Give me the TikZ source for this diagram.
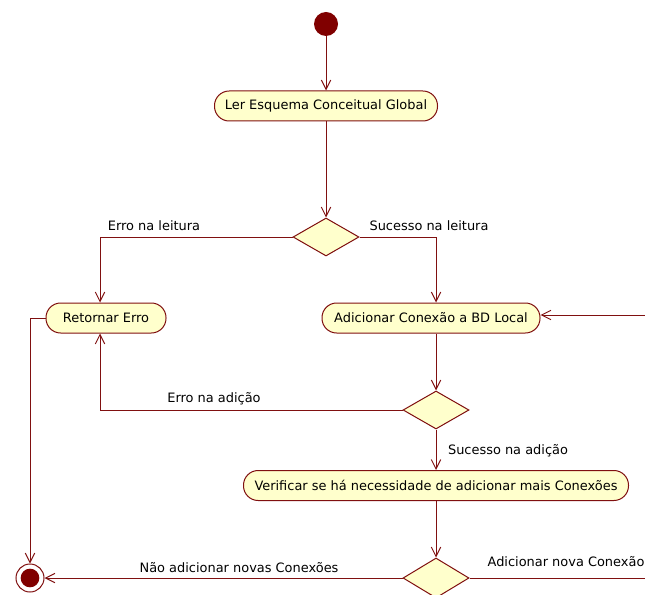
\documentclass[tikz,border=0pt]{standalone}
\usepackage{fontspec}
\setmainfont{DejaVu Sans}
\usetikzlibrary{arrows.meta,shapes.geometric}
\definecolor{umlline}{RGB}{128,16,16}
\definecolor{umlfill}{RGB}{255,255,204}
\definecolor{umldot}{RGB}{128,0,0}
\begin{document}
\begin{tikzpicture}[x=0.75pt,y=-0.75pt,
  every node/.style={font=\fontsize{9.7}{11}\selectfont},
  act/.style={draw=umlline,fill=umlfill,line width=0.75pt,rectangle,rounded corners=11pt,minimum height=22.5pt,inner sep=0pt},
  dec/.style={draw=umlline,fill=umlfill,line width=0.75pt,diamond,inner sep=0pt,minimum width=49.5pt,minimum height=28.5pt},
  flow/.style={draw=umlline,line width=0.75pt,-{Straight Barb[length=7pt,width=7pt]}},
  plain/.style={draw=umlline,line width=0.75pt},
  lbl/.style={inner sep=0pt,text=black}]
\useasboundingbox[fill=white] (0,0) rectangle (645,595);
% nodes
\node[circle,fill=umldot,minimum size=18pt,inner sep=0pt] (start) at (326,24) {};
\node[act,minimum width=167.25pt] (ler) at (326,106) {Ler Esquema Conceitual Global};
\node[dec] (d1) at (326,237) {};
\node[act,minimum width=90pt] (ret) at (106,318) {Retornar Erro};
\node[act,minimum width=163.5pt] (add) at (431,318) {Adicionar Conexão a BD Local};
\node[dec] (d2) at (436,410) {};
\node[act,minimum width=288.75pt] (ver) at (436,485.5) {Verificar se há necessidade de adicionar mais Conexões};
\node[dec,minimum height=30pt] (d3) at (436,578) {};
\node[circle,draw=umlline,fill=white,line width=0.75pt,minimum size=21pt,inner sep=0pt] (end) at (30,578) {};
\node[circle,fill=umldot,minimum size=14pt,inner sep=0pt] (endin) at (30,578) {};
\coordinate (outR) at (645,578);
\coordinate (inR) at (645,315);
% labels
\node[lbl] (l1) at (154,226) {Erro na leitura};
\node[lbl] (l2) at (429,226) {Sucesso na leitura};
\node[lbl] (l3) at (214,399) {Erro na adição};
\node[lbl] (l4) at (508,451) {Sucesso na adição};
\node[lbl] (l5) at (239,568) {Não adicionar novas Conexões};
\node[lbl] (l6) at (566,562) {Adicionar nova Conexão};
% connectors
\draw[flow] (start) -- (ler);
\draw[flow] (ler) -- (d1);
\draw[flow] (d1.west) -| ([xshift=-4.5pt]ret.north);
\draw[flow] (d1.east) -| ([xshift=3.75pt]add.north);
\draw[flow] ([xshift=3.75pt]add.south) -- (d2);
\draw[flow] (d2.west) -| ([xshift=-4.5pt]ret.south);
\draw[flow] (d2) -- (ver);
\draw[flow] (ver) -- (d3);
\draw[flow] (d3.west) -- (end);
\draw[flow] (ret.west) -| (end.north);
\draw[plain] (d3.east) -- (outR);
\draw[flow] (inR) -- (inR -| add.east);
\end{tikzpicture}
\end{document}
